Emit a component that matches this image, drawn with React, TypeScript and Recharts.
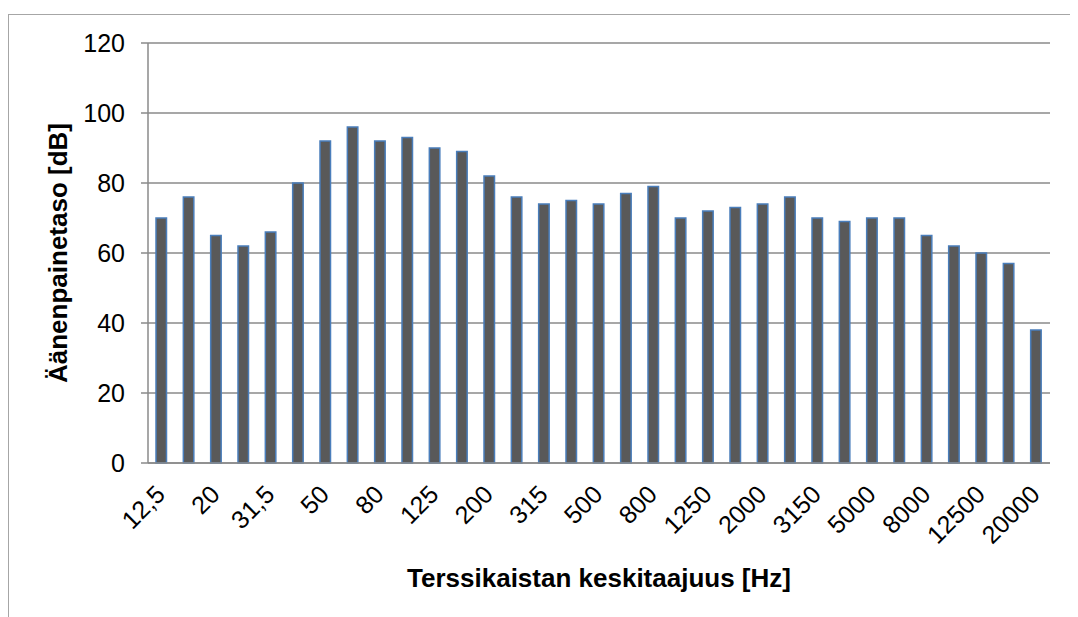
import React from 'react';
import { BarChart, Bar, XAxis, YAxis, CartesianGrid, Label } from 'recharts';

const categories = ['12,5','16','20','25','31,5','40','50','63','80','100','125','160','200','250','315','400','500','630','800','1000','1250','1600','2000','2500','3150','4000','5000','6300','8000','10000','12500','16000','20000'];
const levels = [70,76,65,62,66,80,92,96,92,93,90,89,82,76,74,75,74,77,79,70,72,73,74,76,70,69,70,70,65,62,60,57,38];
const yTicks = [0,20,40,60,80,100,120];

const data = categories.map((c, i) => ({ band: c, level: levels[i] }));

const FONT = 'Arial, "Liberation Sans", sans-serif';
const GRID = '#8a8a8a';

const XTick = (props: any) => {
  const { x, y, payload } = props;
  const ax = x + 5;
  const ay = y + 33;
  return (
    <text x={ax} y={ay} textAnchor="end" fontSize={25} fontFamily={FONT} fill="#000"
      transform={`rotate(-45, ${ax}, ${ay})`}>{payload.value}</text>
  );
};

export default function App() {
  return (
    <div style={{ paddingTop: 6 }}>
      <div style={{ width: 1069, height: 602, borderTop: '1.5px solid #a6a6a6', borderLeft: '1.5px solid #a6a6a6', background: '#fff' }}>
        <BarChart width={1069} height={602} data={data} margin={{ top: 28, right: 28, left: 0, bottom: 0 }} barCategoryGap={0}>
          <CartesianGrid vertical={false} stroke={GRID} strokeWidth={1.5} />
          <XAxis dataKey="band" height={154} interval={1} tickLine={false} tickSize={0} tickMargin={0}
            axisLine={{ stroke: GRID, strokeWidth: 1.5 }} tick={<XTick />}>
            <Label content={(p: any) => {
              const vb = p.viewBox;
              return <text x={vb.x + vb.width / 2} y={vb.y + 124} textAnchor="middle" fontSize={26} fontWeight="bold" fontFamily={FONT} fill="#000">Terssikaistan keskitaajuus [Hz]</text>;
            }} />
          </XAxis>
          <YAxis width={139} domain={[0, 120]} ticks={yTicks} interval={0} tickSize={7} tickMargin={16}
            axisLine={{ stroke: GRID, strokeWidth: 1.5 }} tickLine={{ stroke: GRID, strokeWidth: 1.5 }}
            tick={{ fontSize: 25, fontFamily: FONT, fill: '#000' }}>
            <Label content={(p: any) => {
              const vb = p.viewBox;
              const cx = 57.5;
              const cy = vb.y + vb.height / 2;
              return <text x={cx} y={cy} textAnchor="middle" fontSize={26} fontWeight="bold" fontFamily={FONT} fill="#000" transform={`rotate(-90, ${cx}, ${cy})`}>Äänenpainetaso [dB]</text>;
            }} />
          </YAxis>
          <Bar dataKey="level" fill="#595959" stroke="#4a7ebb" strokeWidth={1.5} barSize={10.5} isAnimationActive={false} />
        </BarChart>
      </div>
    </div>
  );
}
